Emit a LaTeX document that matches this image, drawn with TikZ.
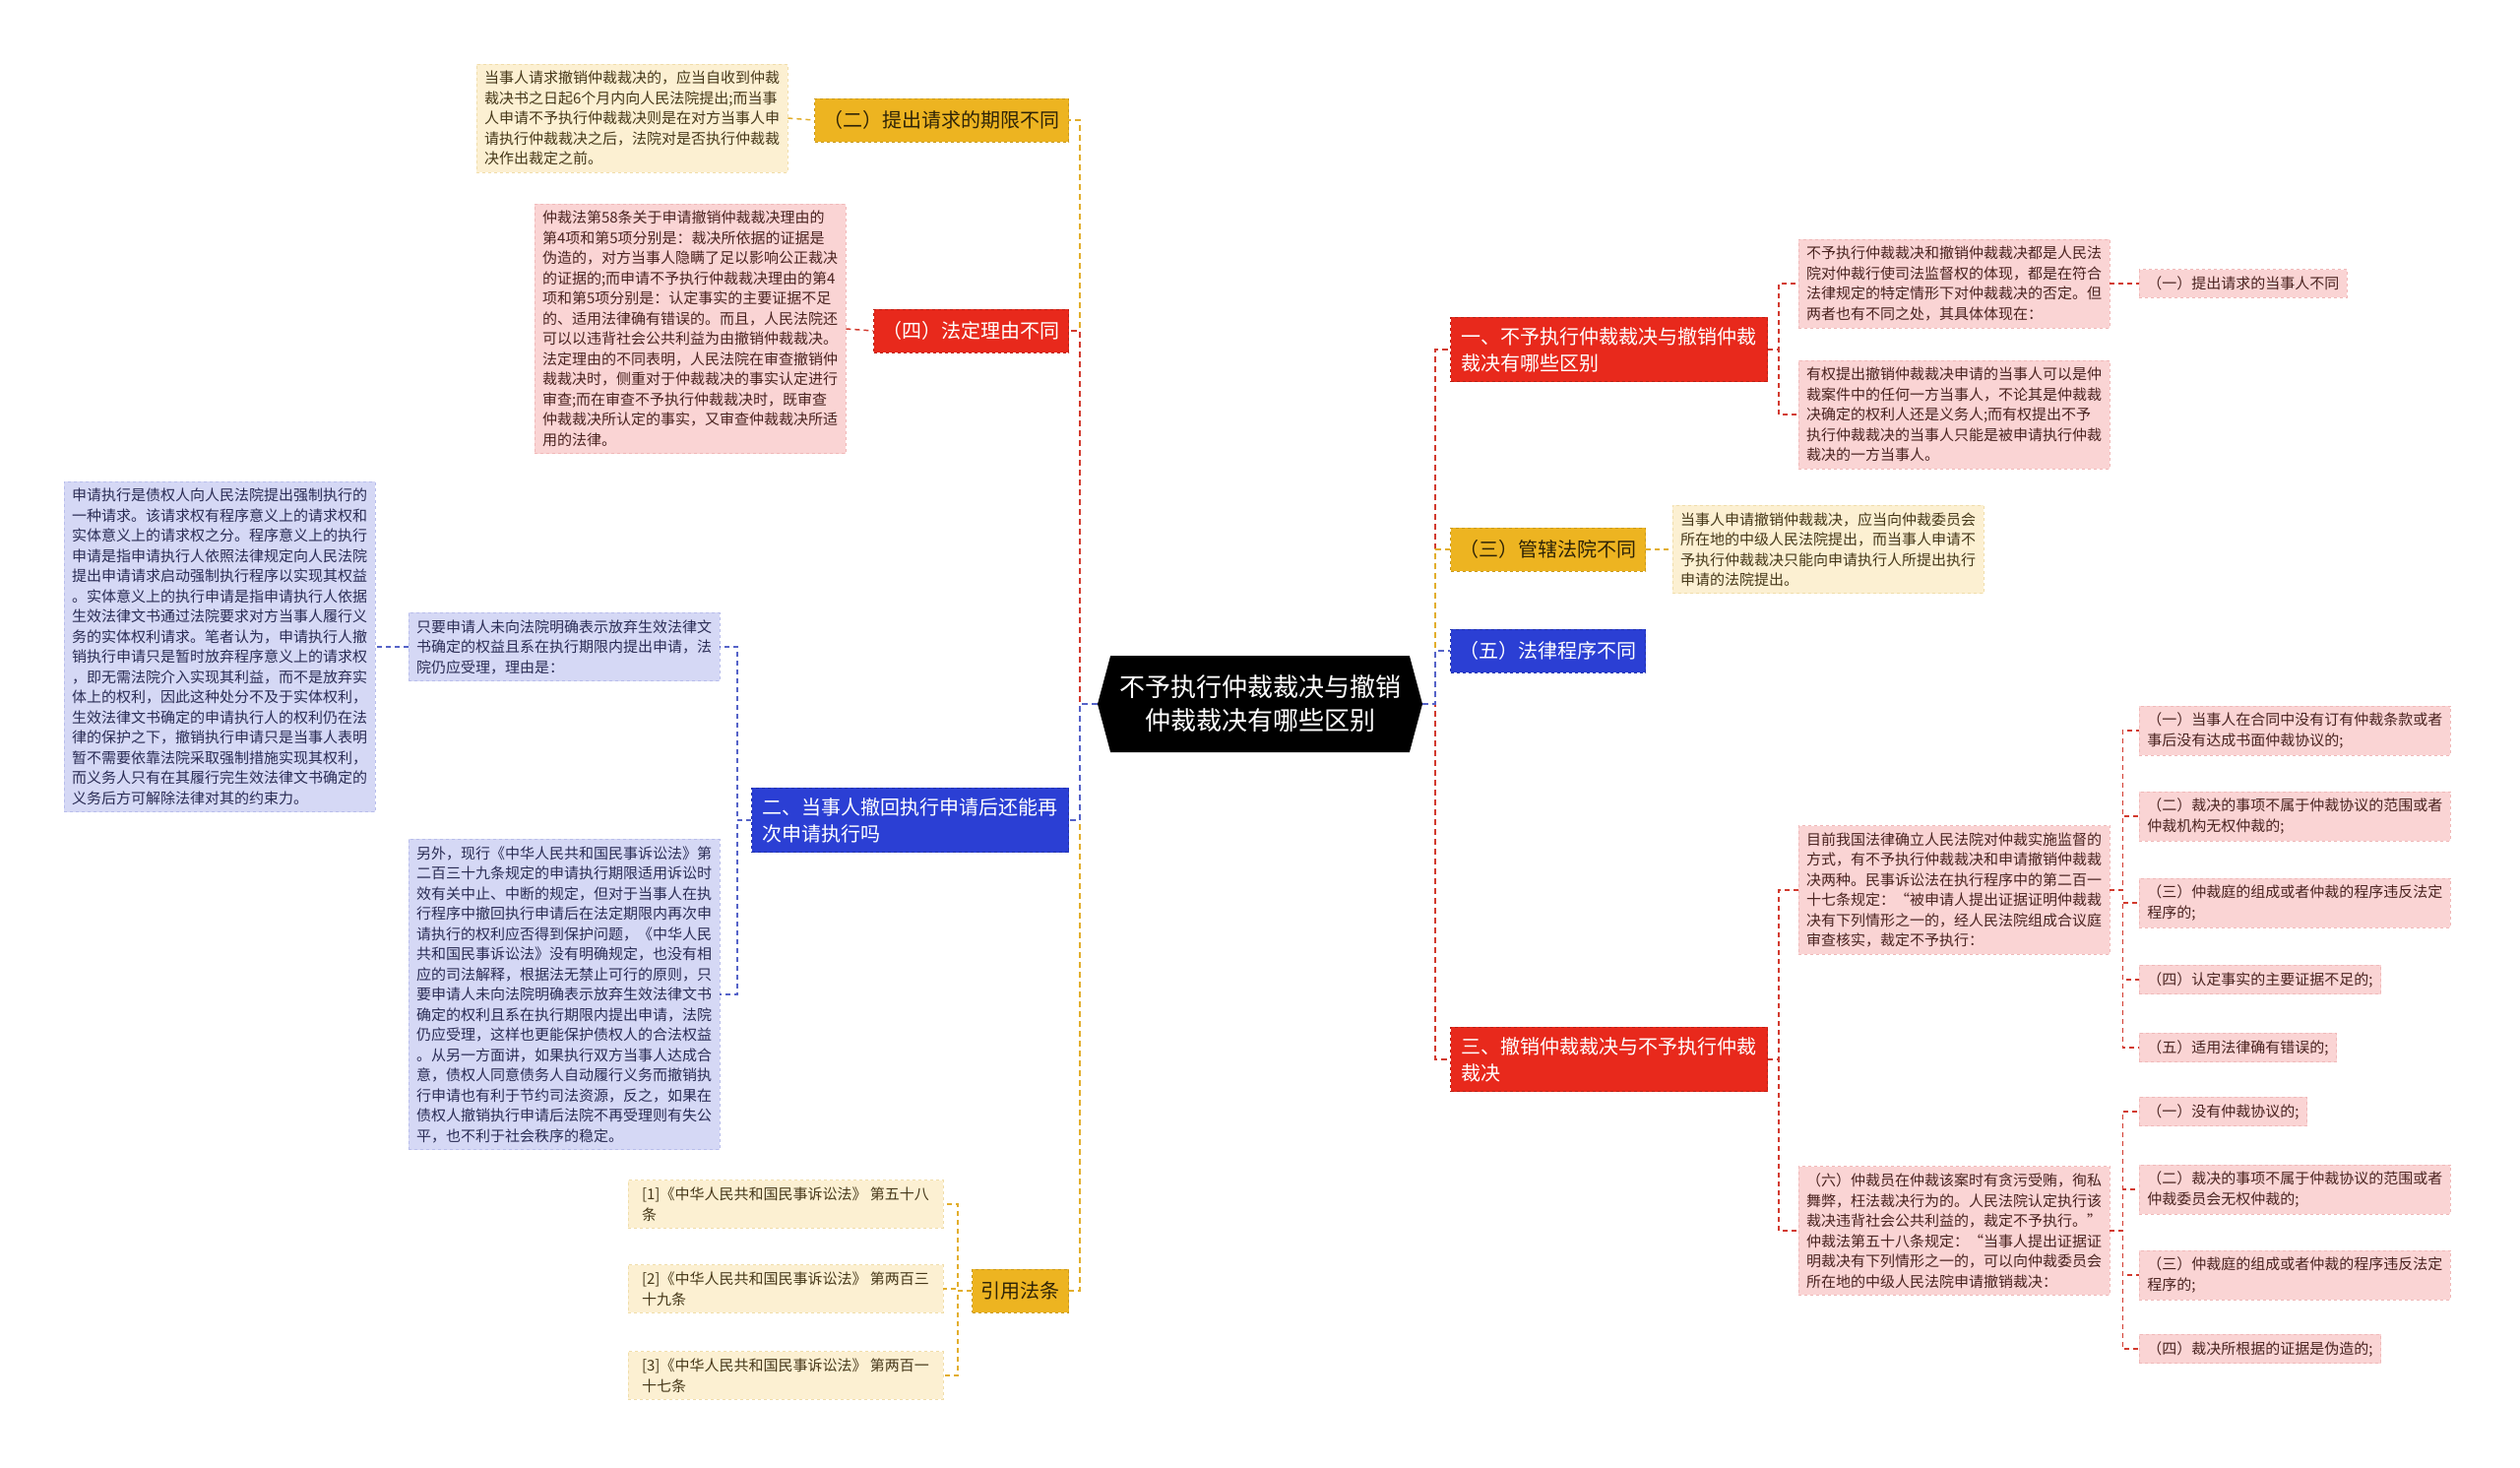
\documentclass[tikz,border=0pt]{standalone}
\usepackage{fontspec}
\setmainfont{Noto Sans CJK SC}
\usepackage{tikz}
\usetikzlibrary{shapes.symbols}

\definecolor{redtopic}{HTML}{E8291C}
\definecolor{redline}{HTML}{D23A2E}
\definecolor{yellowtopic}{HTML}{EDB421}
\definecolor{yellowline}{HTML}{E2AE2C}
\definecolor{bluetopic}{HTML}{2B3FD4}
\definecolor{blueline}{HTML}{5563C8}
\definecolor{pinkfill}{HTML}{FAD4D4}
\definecolor{pinkedge}{HTML}{F0B8B8}
\definecolor{pinktext}{HTML}{4A2320}
\definecolor{creamfill}{HTML}{FCF0D2}
\definecolor{creamedge}{HTML}{F0DDAA}
\definecolor{creamtext}{HTML}{463819}
\definecolor{lavfill}{HTML}{D5D8F5}
\definecolor{lavedge}{HTML}{B8BDEB}
\definecolor{lavtext}{HTML}{2A2C55}

\begin{document}
\begin{tikzpicture}[x=1pt,y=-1pt,
    hub/.style={shape=signal, signal to=west and east, signal pointer angle=150,
      fill=black, text=white, align=center, font=\fontsize{26}{34}\selectfont,
      minimum width=330pt, minimum height=98pt},
    topic/.style={draw, dashed, line width=1pt, align=left, inner xsep=9pt, inner ysep=10pt,
      minimum height=44pt, font=\fontsize{20}{27}\selectfont},
    redtopic/.style={topic, fill=redtopic, draw=redtopic!80!black, text=white},
    yellowtopic/.style={topic, fill=yellowtopic, draw=yellowtopic!85!black, text=black!80!yellowtopic},
    bluetopic/.style={topic, fill=bluetopic, draw=bluetopic!80!black, text=white},
    note/.style={draw, dashed, line width=0.8pt, align=left, inner xsep=8pt, inner ysep=7pt,
      font=\fontsize{15}{20.5}\selectfont},
    pinknote/.style={note, fill=pinkfill, draw=pinkedge, text=pinktext},
    creamnote/.style={note, fill=creamfill, draw=creamedge, text=creamtext},
    lavnote/.style={note, fill=lavfill, draw=lavedge, text=lavtext},
    link/.style={line width=2pt, dash pattern=on 6pt off 4pt},
    sublink/.style={line width=1.5pt, dash pattern=on 5pt off 4pt}]

  % Fond
  \fill[white] (0,0) rectangle (2560,1491);
  \useasboundingbox (0,0) rectangle (2560,1491);

  % Noeud central
  \node[hub] (hub) at (1280,715) {不予执行仲裁裁决与撤销\\仲裁裁决有哪些区别};

  % Branches gauche
  \node[yellowtopic, anchor=east] (qixian) at (1086,122) {（二）提出请求的期限不同};
  \node[redtopic, anchor=east] (liyou) at (1086,336) {（四）法定理由不同};
  \node[bluetopic, anchor=east, inner xsep=11pt] (chehui) at (1086,833) {二、当事人撤回执行申请后还能再\\次申请执行吗};
  \node[yellowtopic, anchor=east] (fatiao) at (1086,1311) {引用法条};

  % Branches droite
  \node[redtopic, anchor=west, inner xsep=11pt] (quBie) at (1473,355) {一、不予执行仲裁裁决与撤销仲裁\\裁决有哪些区别};
  \node[yellowtopic, anchor=west] (guanxia) at (1473,558) {（三）管辖法院不同};
  \node[bluetopic, anchor=west] (chengxu) at (1473,661) {（五）法律程序不同};
  \node[redtopic, anchor=west, inner xsep=11pt] (chexiao) at (1473,1076) {三、撤销仲裁裁决与不予执行仲裁\\裁决};

  % Notes gauche
  \node[creamnote] (qixianTxt) at (642,120) {当事人请求撤销仲裁裁决的，应当自收到仲裁\\裁决书之日起6个月内向人民法院提出;而当事\\人申请不予执行仲裁裁决则是在对方当事人申\\请执行仲裁裁决之后，法院对是否执行仲裁裁\\决作出裁定之前。};
  \node[pinknote] (liyouTxt) at (701,334) {仲裁法第58条关于申请撤销仲裁裁决理由的\\第4项和第5项分别是：裁决所依据的证据是\\伪造的，对方当事人隐瞒了足以影响公正裁决\\的证据的;而申请不予执行仲裁裁决理由的第4\\项和第5项分别是：认定事实的主要证据不足\\的、适用法律确有错误的。而且，人民法院还\\可以以违背社会公共利益为由撤销仲裁裁决。\\法定理由的不同表明，人民法院在审查撤销仲\\裁裁决时，侧重对于仲裁裁决的事实认定进行\\审查;而在审查不予执行仲裁裁决时，既审查\\仲裁裁决所认定的事实，又审查仲裁裁决所适\\用的法律。};
  \node[lavnote] (shouli) at (573,657) {只要申请人未向法院明确表示放弃生效法律文\\书确定的权益且系在执行期限内提出申请，法\\院仍应受理，理由是：};
  \node[lavnote] (shenqing) at (223,657) {申请执行是债权人向人民法院提出强制执行的\\一种请求。该请求权有程序意义上的请求权和\\实体意义上的请求权之分。程序意义上的执行\\申请是指申请执行人依照法律规定向人民法院\\提出申请请求启动强制执行程序以实现其权益\\。实体意义上的执行申请是指申请执行人依据\\生效法律文书通过法院要求对方当事人履行义\\务的实体权利请求。笔者认为，申请执行人撤\\销执行申请只是暂时放弃程序意义上的请求权\\，即无需法院介入实现其利益，而不是放弃实\\体上的权利，因此这种处分不及于实体权利，\\生效法律文书确定的申请执行人的权利仍在法\\律的保护之下，撤销执行申请只是当事人表明\\暂不需要依靠法院采取强制措施实现其权利，\\而义务人只有在其履行完生效法律文书确定的\\义务后方可解除法律对其的约束力。};
  \node[lavnote] (lingwai) at (573,1010) {另外，现行《中华人民共和国民事诉讼法》第\\二百三十九条规定的申请执行期限适用诉讼时\\效有关中止、中断的规定，但对于当事人在执\\行程序中撤回执行申请后在法定期限内再次申\\请执行的权利应否得到保护问题，《中华人民\\共和国民事诉讼法》没有明确规定，也没有相\\应的司法解释，根据法无禁止可行的原则，只\\要申请人未向法院明确表示放弃生效法律文书\\确定的权利且系在执行期限内提出申请，法院\\仍应受理，这样也更能保护债权人的合法权益\\。从另一方面讲，如果执行双方当事人达成合\\意，债权人同意债务人自动履行义务而撤销执\\行申请也有利于节约司法资源，反之，如果在\\债权人撤销执行申请后法院不再受理则有失公\\平，也不利于社会秩序的稳定。};
  \node[creamnote, minimum width=320pt] (ref1) at (798,1223) {[1]《中华人民共和国民事诉讼法》 第五十八\\条};
  \node[creamnote, minimum width=320pt] (ref2) at (798,1309) {[2]《中华人民共和国民事诉讼法》 第两百三\\十九条};
  \node[creamnote, minimum width=320pt] (ref3) at (798,1397) {[3]《中华人民共和国民事诉讼法》 第两百一\\十七条};

  % Notes droite
  \node[pinknote] (jiandu) at (1985,288) {不予执行仲裁裁决和撤销仲裁裁决都是人民法\\院对仲裁行使司法监督权的体现，都是在符合\\法律规定的特定情形下对仲裁裁决的否定。但\\两者也有不同之处，其具体体现在：};
  \node[pinknote] (youquan) at (1985,421) {有权提出撤销仲裁裁决申请的当事人可以是仲\\裁案件中的任何一方当事人，不论其是仲裁裁\\决确定的权利人还是义务人;而有权提出不予\\执行仲裁裁决的当事人只能是被申请执行仲裁\\裁决的一方当事人。};
  \node[pinknote, anchor=west] (dangshiren) at (2173,288) {（一）提出请求的当事人不同};
  \node[creamnote] (guanxiaTxt) at (1857,558) {当事人申请撤销仲裁裁决，应当向仲裁委员会\\所在地的中级人民法院提出，而当事人申请不\\予执行仲裁裁决只能向申请执行人所提出执行\\申请的法院提出。};
  \node[pinknote] (buyu) at (1985,904) {目前我国法律确立人民法院对仲裁实施监督的\\方式，有不予执行仲裁裁决和申请撤销仲裁裁\\决两种。民事诉讼法在执行程序中的第二百一\\十七条规定：“被申请人提出证据证明仲裁裁\\决有下列情形之一的，经人民法院组成合议庭\\审查核实，裁定不予执行：};
  \node[pinknote] (chexiaoTxt) at (1985,1250) {（六）仲裁员在仲裁该案时有贪污受贿，徇私\\舞弊，枉法裁决行为的。人民法院认定执行该\\裁决违背社会公共利益的，裁定不予执行。”\\仲裁法第五十八条规定：“当事人提出证据证\\明裁决有下列情形之一的，可以向仲裁委员会\\所在地的中级人民法院申请撤销裁决：};

  % Listes
  \node[pinknote, anchor=west] (ba1) at (2173,742) {（一）当事人在合同中没有订有仲裁条款或者\\事后没有达成书面仲裁协议的;};
  \node[pinknote, anchor=west] (ba2) at (2173,829) {（二）裁决的事项不属于仲裁协议的范围或者\\仲裁机构无权仲裁的;};
  \node[pinknote, anchor=west] (ba3) at (2173,917) {（三）仲裁庭的组成或者仲裁的程序违反法定\\程序的;};
  \node[pinknote, anchor=west] (ba4) at (2173,995) {（四）认定事实的主要证据不足的;};
  \node[pinknote, anchor=west] (ba5) at (2173,1064) {（五）适用法律确有错误的;};
  \node[pinknote, anchor=west] (cx1) at (2173,1129) {（一）没有仲裁协议的;};
  \node[pinknote, anchor=west] (cx2) at (2173,1208) {（二）裁决的事项不属于仲裁协议的范围或者\\仲裁委员会无权仲裁的;};
  \node[pinknote, anchor=west] (cx3) at (2173,1295) {（三）仲裁庭的组成或者仲裁的程序违反法定\\程序的;};
  \node[pinknote, anchor=west] (cx4) at (2173,1370) {（四）裁决所根据的证据是伪造的;};

  % Liens principaux
  \draw[link, draw=yellowline] (hub.west) -- ++(-18,0) |- (qixian.east);
  \draw[link, draw=redline] (hub.west) -- ++(-18,0) |- (liyou.east);
  \draw[link, draw=yellowline] (hub.west) -- ++(-18,0) |- (fatiao.east);
  \draw[link, draw=blueline] (hub.west) -- ++(-18,0) |- (chehui.east);
  \draw[link, draw=redline] (hub.east) -- ++(13,0) |- (quBie.west);
  \draw[link, draw=redline] (hub.east) -- ++(13,0) |- (chexiao.west);
  \draw[link, draw=yellowline] (hub.east) -- ++(13,0) |- (guanxia.west);
  \draw[link, draw=blueline] (hub.east) -- ++(13,0) |- (chengxu.west);

  % Liens secondaires
  \draw[sublink, draw=yellowline] (qixianTxt.east) -- (qixian.west);
  \draw[sublink, draw=redline] (liyouTxt.east) -- (liyou.west);
  \draw[sublink, draw=blueline] (chehui.west) -- ++(-14,0) |- (shouli.east);
  \draw[sublink, draw=blueline] (chehui.west) -- ++(-14,0) |- (lingwai.east);
  \draw[sublink, draw=blueline] (shouli.west) -- (shenqing.east);
  \foreach \r in {ref1,ref2,ref3}
    \draw[sublink, draw=yellowline] (fatiao.west) -- ++(-14,0) |- (\r.east);
  \draw[sublink, draw=redline] (quBie.east) -- ++(11,0) |- (jiandu.west);
  \draw[sublink, draw=redline] (quBie.east) -- ++(11,0) |- (youquan.west);
  \draw[sublink, draw=redline] (jiandu.east) -- (dangshiren.west);
  \draw[sublink, draw=yellowline] (guanxia.east) -- (guanxiaTxt.west);
  \draw[sublink, draw=redline] (chexiao.east) -- ++(11,0) |- (buyu.west);
  \draw[sublink, draw=redline] (chexiao.east) -- ++(11,0) |- (chexiaoTxt.west);
  \foreach \b in {ba1,ba2,ba3,ba4,ba5}
    \draw[sublink, draw=redline] (buyu.east) -- ++(13,0) |- (\b.west);
  \foreach \c in {cx1,cx2,cx3,cx4}
    \draw[sublink, draw=redline] (chexiaoTxt.east) -- ++(13,0) |- (\c.west);
\end{tikzpicture}
\end{document}
